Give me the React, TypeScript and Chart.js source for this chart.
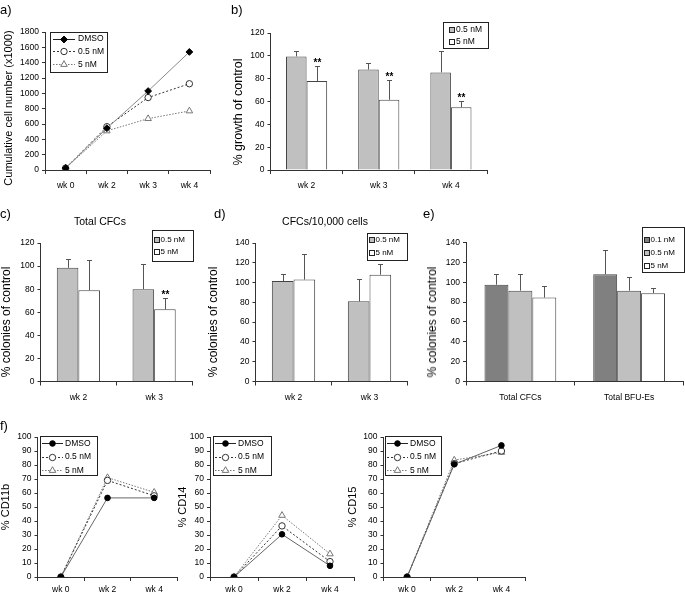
import React, { useEffect, useRef } from 'react';
import { Chart, registerables } from 'chart.js';

Chart.register(...registerables);

const W = 685;
const H = 594;
const FONT = "'Liberation Sans', Arial, Helvetica, sans-serif";
const AXIS = '#333';
const YW = 30;

// ---- data ----
const weeksA = ['wk 0', 'wk 2', 'wk 3', 'wk 4'];
const cellsDMSO = [25, 545, 1030, 1540];
const cells05 = [25, 565, 945, 1125];
const cells5 = [25, 510, 670, 770];

const weeksB = ['wk 2', 'wk 3', 'wk 4'];
const growth05 = [99.5, 88, 85.5];
const growth05Err = [4.5, 6, 18.5];
const growth5 = [78, 61.5, 55];
const growth5Err = [13.5, 17, 5.5];
const growth5Sig = [true, true, true];

const weeksC = ['wk 2', 'wk 3'];
const cfc05 = [98.5, 80];
const cfc05Err = [7.5, 21.5];
const cfc5 = [79, 62.5];
const cfc5Err = [26, 10];
const cfc5Sig = [false, true];

const perCell05 = [101.5, 81];
const perCell05Err = [7, 22.5];
const perCell5 = [103, 108];
const perCell5Err = [26, 10.5];

const groupsE = ['Total CFCs', 'Total BFU-Es'];
const col01 = [97.5, 108];
const col01Err = [11, 24];
const col05 = [91.5, 91.5];
const col05Err = [17, 14];
const col5 = [84.5, 89];
const col5Err = [12, 5];

const weeksF = ['wk 0', 'wk 2', 'wk 4'];
const cd11bDMSO = [0, 56.5, 56.5];
const cd11b05 = [0, 69, 58];
const cd11b5 = [0, 71, 60.5];
const cd14DMSO = [0, 30.5, 8];
const cd1405 = [0, 36.5, 11];
const cd145 = [0, 44, 16.5];
const cd15DMSO = [0, 80.5, 94];
const cd1505 = [0, 81, 90];
const cd155 = [0, 83.5, 89];

// ---- helpers ----
type Area = { l: number; t: number; r: number; b: number };

function drawMarker(ctx: CanvasRenderingContext2D, style: string, r: number, x: number, y: number) {
  ctx.beginPath();
  if (style === 'circle') {
    ctx.arc(x, y, r, 0, Math.PI * 2);
  } else if (style === 'triangle') {
    ctx.moveTo(x, y - r);
    ctx.lineTo(x + Math.sin((2 * Math.PI) / 3) * r, y + 0.5 * r);
    ctx.lineTo(x - Math.sin((2 * Math.PI) / 3) * r, y + 0.5 * r);
    ctx.closePath();
  } else {
    ctx.moveTo(x, y - r);
    ctx.lineTo(x + r, y);
    ctx.lineTo(x, y + r);
    ctx.lineTo(x - r, y);
    ctx.closePath();
  }
  ctx.fill();
  ctx.stroke();
}

type LegendCfg = {
  x: number; y: number; w: number; h: number; rows: number[];
  kind: 'bar' | 'line'; sx: number; sl?: number; tx: number; size?: number;
};

function boxLegend(cfg: LegendCfg) {
  return {
    id: 'boxLegend',
    afterDraw(chart: any) {
      const ctx: CanvasRenderingContext2D = chart.ctx;
      ctx.save();
      ctx.setLineDash([]);
      ctx.fillStyle = '#fff';
      ctx.fillRect(cfg.x, cfg.y, cfg.w, cfg.h);
      ctx.lineWidth = 1;
      ctx.strokeStyle = '#222';
      ctx.strokeRect(Math.round(cfg.x) + 0.5, Math.round(cfg.y) + 0.5, Math.round(cfg.w), Math.round(cfg.h));
      ctx.font = `${cfg.size || 8.5}px ${FONT}`;
      ctx.textBaseline = 'middle';
      ctx.textAlign = 'left';
      chart.data.datasets.forEach((ds: any, i: number) => {
        const cy = cfg.rows[i];
        if (cfg.kind === 'bar') {
          const s = 5;
          const sx = Math.floor(cfg.sx);
          const sy = Math.round(cy - s / 2);
          ctx.fillStyle = ds.backgroundColor;
          ctx.fillRect(sx, sy, s, s);
          ctx.strokeStyle = '#222';
          ctx.lineWidth = 1;
          ctx.strokeRect(sx + 0.5, sy + 0.5, s, s);
        } else {
          const sl = cfg.sl || 20;
          ctx.strokeStyle = ds.legendColor || ds.borderColor;
          ctx.lineWidth = 1;
          ctx.setLineDash(ds.borderDash || []);
          ctx.beginPath();
          ctx.moveTo(cfg.sx, Math.round(cy) + 0.5);
          ctx.lineTo(cfg.sx + sl, Math.round(cy) + 0.5);
          ctx.stroke();
          ctx.setLineDash([]);
          ctx.fillStyle = ds.pointBackgroundColor;
          ctx.strokeStyle = ds.pointBorderColor;
          ctx.lineWidth = 1;
          drawMarker(ctx, ds.pointStyle, ds.pointRadius, cfg.sx + sl / 2, Math.round(cy) + 0.5);
        }
        ctx.fillStyle = '#000';
        ctx.fillText(ds.label, cfg.tx, cy + 0.5);
      });
      ctx.restore();
    },
  };
}

const errorBars = {
  id: 'errorBars',
  afterDatasetsDraw(chart: any) {
    const ctx: CanvasRenderingContext2D = chart.ctx;
    const ys = chart.scales.y;
    ctx.save();
    chart.data.datasets.forEach((ds: any, di: number) => {
      if (!ds.errs) return;
      const meta = chart.getDatasetMeta(di);
      meta.data.forEach((el: any, i: number) => {
        const v = ds.data[i];
        const e = ds.errs[i];
        const x = Math.round(el.x) + 0.5;
        const y0 = ys.getPixelForValue(v);
        const y1 = Math.round(ys.getPixelForValue(v + e)) + 0.5;
        ctx.strokeStyle = '#555';
        ctx.lineWidth = 1;
        ctx.beginPath();
        ctx.moveTo(x, y0);
        ctx.lineTo(x, y1);
        ctx.moveTo(x - 2.5, y1);
        ctx.lineTo(x + 2.5, y1);
        ctx.stroke();
        if (ds.stars && ds.stars[i]) {
          ctx.fillStyle = '#000';
          ctx.font = `bold 10px ${FONT}`;
          ctx.textAlign = 'center';
          ctx.textBaseline = 'alphabetic';
          ctx.fillText('**', x, y1 - 0.5);
        }
      });
    });
    ctx.restore();
  },
};

function makeScales(max: number, step: number, xPad: number, xh: number) {
  return {
    x: {
      type: 'category',
      offset: true,
      grid: { display: true, drawOnChartArea: false, drawTicks: true, tickLength: 4, offset: true, color: AXIS, lineWidth: 1 },
      border: { display: true, color: AXIS, width: 1 },
      ticks: { font: { family: FONT, size: 8.5 }, color: '#000', padding: xPad, autoSkip: false, maxRotation: 0 },
      afterFit: (s: any) => { s.height = xh; },
    },
    y: {
      min: 0,
      max,
      grid: { display: true, drawOnChartArea: false, drawTicks: true, tickLength: 3, color: AXIS, lineWidth: 1 },
      border: { display: true, color: AXIS, width: 1 },
      ticks: {
        stepSize: step,
        font: { family: FONT, size: 8.5 },
        color: '#000',
        padding: 3,
        callback: (v: any) => String(v),
      },
      afterFit: (s: any) => { s.width = YW; },
    },
  };
}

function baseOptions(area: Area, max: number, step: number, xPad = 7, xh = 22) {
  return {
    responsive: false,
    animation: false,
    events: [],
    layout: {
      padding: { left: area.l - YW, top: area.t, right: W - area.r, bottom: H - area.b - xh },
    },
    plugins: { legend: { display: false }, tooltip: { enabled: false }, title: { display: false } },
    scales: makeScales(max, step, xPad, xh),
  };
}

function barDs(label: string, data: number[], errs: number[], color: string, pct: number, stars?: boolean[]) {
  return {
    label, data, errs, stars,
    backgroundColor: color,
    borderColor: '#444',
    borderWidth: 1,
    borderSkipped: 'bottom',
    barPercentage: 1,
    categoryPercentage: pct,
  };
}

function dmsoDs(data: number[], diamond: boolean) {
  return {
    label: 'DMSO', data,
    borderColor: diamond ? '#8a8a8a' : '#666',
    legendColor: '#222',
    borderWidth: 1,
    pointStyle: diamond ? 'rectRot' : 'circle',
    pointRadius: diamond ? 3.4 : 2.8,
    pointBackgroundColor: '#000',
    pointBorderColor: '#000',
    pointBorderWidth: 1,
  };
}
function nm05Ds(data: number[]) {
  return {
    label: '0.5 nM', data,
    borderColor: '#333', borderWidth: 1, borderDash: [2, 2],
    pointStyle: 'circle', pointRadius: 3.2,
    pointBackgroundColor: '#fff', pointBorderColor: '#333', pointBorderWidth: 1,
  };
}
function nm5Ds(data: number[]) {
  return {
    label: '5 nM', data,
    borderColor: '#777', borderWidth: 1, borderDash: [1.5, 1.5],
    pointStyle: 'triangle', pointRadius: 3.8,
    pointBackgroundColor: '#fff', pointBorderColor: '#777', pointBorderWidth: 1,
  };
}

// ---- chart builders ----
const buildA = () => ({
  type: 'line',
  data: { labels: weeksA, datasets: [dmsoDs(cellsDMSO, true), nm05Ds(cells05), nm5Ds(cells5)] },
  options: baseOptions({ l: 45, t: 32, r: 210, b: 170 }, 1800, 200),
  plugins: [boxLegend({ x: 50, y: 32, w: 57, h: 40, rows: [38.5, 51, 64], kind: 'line', sx: 53, sl: 22, tx: 78 })],
});

const buildB = () => ({
  type: 'bar',
  data: {
    labels: weeksB,
    datasets: [
      barDs('0.5 nM', growth05, growth05Err, '#c0c0c0', 0.57),
      barDs('5 nM', growth5, growth5Err, '#ffffff', 0.57, growth5Sig),
    ],
  },
  options: baseOptions({ l: 270.5, t: 33, r: 487, b: 170 }, 120, 20),
  plugins: [errorBars, boxLegend({ x: 443, y: 22, w: 45, h: 26, rows: [29.5, 41.5], kind: 'bar', sx: 449, tx: 456 })],
});

const buildC = () => ({
  type: 'bar',
  data: {
    labels: weeksC,
    datasets: [
      barDs('0.5 nM', cfc05, cfc05Err, '#c0c0c0', 0.57),
      barDs('5 nM', cfc5, cfc5Err, '#ffffff', 0.57, cfc5Sig),
    ],
  },
  options: baseOptions({ l: 40.5, t: 243, r: 192, b: 381.5 }, 120, 20),
  plugins: [errorBars, boxLegend({ x: 152, y: 229.5, w: 41, h: 30.5, rows: [239.5, 251], kind: 'bar', sx: 154, tx: 160.5, size: 8 })],
});

const buildD = () => ({
  type: 'bar',
  data: {
    labels: weeksC,
    datasets: [
      barDs('0.5 nM', perCell05, perCell05Err, '#c0c0c0', 0.57),
      barDs('5 nM', perCell5, perCell5Err, '#ffffff', 0.57),
    ],
  },
  options: baseOptions({ l: 255.5, t: 243, r: 407.5, b: 381.5 }, 140, 20),
  plugins: [errorBars, boxLegend({ x: 367, y: 233, w: 40, h: 26.5, rows: [239.5, 252], kind: 'bar', sx: 369, tx: 375.5, size: 8 })],
});

const buildE = () => ({
  type: 'bar',
  data: {
    labels: groupsE,
    datasets: [
      barDs('0.1 nM', col01, col01Err, '#808080', 0.66),
      barDs('0.5 nM', col05, col05Err, '#c0c0c0', 0.66),
      barDs('5 nM', col5, col5Err, '#ffffff', 0.66),
    ],
  },
  options: baseOptions({ l: 466, t: 242.5, r: 683.5, b: 381.5 }, 140, 20),
  plugins: [errorBars, boxLegend({ x: 642, y: 227, w: 42, h: 45, rows: [239, 252.5, 265.5], kind: 'bar', sx: 644, tx: 650.5, size: 8 })],
});

const buildF = (area: Area, d: number[], a: number[], b: number[], lx: number, lw: number) => () => ({
  type: 'line',
  data: { labels: weeksF, datasets: [dmsoDs(d, false), nm05Ds(a), nm5Ds(b)] },
  options: baseOptions(area, 100, 10, 4, 17),
  plugins: [boxLegend({ x: lx, y: 436, w: lw, h: 39, rows: [443, 456.5, 470], kind: 'line', sx: lx + 2, sl: 21, tx: lx + 25 })],
});

const buildF1 = buildF({ l: 37.5, t: 437, r: 177.5, b: 577 }, cd11bDMSO, cd11b05, cd11b5, 40, 57);
const buildF2 = buildF({ l: 210, t: 437, r: 354, b: 577 }, cd14DMSO, cd1405, cd145, 213, 58);
const buildF3 = buildF({ l: 383.5, t: 437, r: 525, b: 577 }, cd15DMSO, cd1505, cd155, 385, 56);

function ChartCanvas({ build }: { build: () => any }) {
  const ref = useRef<HTMLCanvasElement>(null);
  useEffect(() => {
    const chart = new Chart(ref.current as HTMLCanvasElement, build());
    return () => chart.destroy();
  }, []);
  return (
    <canvas
      ref={ref}
      width={W}
      height={H}
      style={{ position: 'absolute', left: 0, top: 0, width: W, height: H }}
    />
  );
}

function Label({ x, y, size, children }: { x: number; y: number; size: number; children: React.ReactNode }) {
  return (
    <div style={{ position: 'absolute', left: x, top: y, fontSize: size, lineHeight: 1, whiteSpace: 'nowrap' }}>{children}</div>
  );
}
function Centered({ x, y, size, children }: { x: number; y: number; size: number; children: React.ReactNode }) {
  return (
    <div style={{ position: 'absolute', left: x, top: y, fontSize: size, lineHeight: 1, whiteSpace: 'nowrap', transform: 'translate(-50%, -50%)' }}>{children}</div>
  );
}
function YTitle({ x, y, size, children }: { x: number; y: number; size: number; children: React.ReactNode }) {
  return (
    <div style={{ position: 'absolute', left: x, top: y, fontSize: size, lineHeight: 1, whiteSpace: 'nowrap', transform: 'translate(-50%, -50%) rotate(-90deg)' }}>{children}</div>
  );
}

export default function App() {
  return (
    <div style={{ position: 'absolute', left: 0, top: 0, width: W, height: H, background: '#fff', fontFamily: FONT, color: '#000', overflow: 'hidden' }}>
      <ChartCanvas build={buildA} />
      <ChartCanvas build={buildB} />
      <ChartCanvas build={buildC} />
      <ChartCanvas build={buildD} />
      <ChartCanvas build={buildE} />
      <ChartCanvas build={buildF1} />
      <ChartCanvas build={buildF2} />
      <ChartCanvas build={buildF3} />

      <Label x={0} y={3} size={13}>a)</Label>
      <Label x={231} y={3} size={13}>b)</Label>
      <Label x={0} y={207} size={13}>c)</Label>
      <Label x={214} y={207} size={13}>d)</Label>
      <Label x={423} y={207} size={13}>e)</Label>
      <Label x={0} y={419} size={13}>f)</Label>

      <Centered x={100} y={221} size={10.5}>Total CFCs</Centered>
      <Centered x={325} y={221} size={10.5}>CFCs/10,000 cells</Centered>

      <YTitle x={8} y={108} size={11}>Cumulative cell number (x1000)</YTitle>
      <YTitle x={238} y={112} size={12.5}>% growth of control</YTitle>
      <YTitle x={6} y={322} size={12}>% colonies of control</YTitle>
      <YTitle x={213} y={322} size={12}>% colonies of control</YTitle>
      <YTitle x={432} y={322} size={12}>% colonies of control</YTitle>
      <YTitle x={5} y={507} size={11}>% CD11b</YTitle>
      <YTitle x={182} y={507} size={11}>% CD14</YTitle>
      <YTitle x={352} y={507} size={11}>% CD15</YTitle>
    </div>
  );
}
